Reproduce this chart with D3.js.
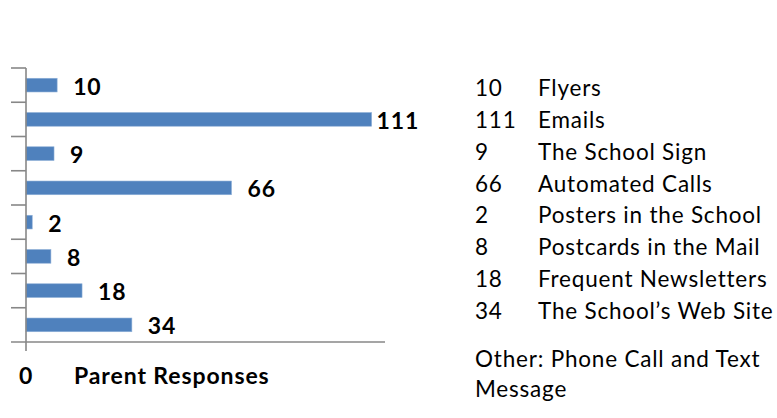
<!DOCTYPE html>
<html>
<head>
<meta charset="utf-8">
<script src="https://cdn.jsdelivr.net/npm/d3@7"></script>
<style>
  html, body { margin: 0; padding: 0; background: #fff; }
  svg { display: block; }
  text { font-family: Lato, "Open Sans", sans-serif; fill: #000; }
  text.b { font-weight: bold; font-size: 23px; letter-spacing: 0.9px; }
  text.r { font-size: 22.5px; letter-spacing: 0.8px; }
</style>
</head>
<body>
<svg id="chart" width="777" height="418"></svg>
<script>
// ---- data ----
const categories = ["Flyers", "Emails", "The School Sign", "Automated Calls",
  "Posters in the School", "Postcards in the Mail", "Frequent Newsletters", "The School\u2019s Web Site"];
const values = [10, 111, 9, 66, 2, 8, 18, 34];
const xTickLabels = ["0"];
const axisTitle = "Parent Responses";
const noteLines = ["Other: Phone Call and Text", "Message"];

// ---- layout ----
const svg = d3.select("#chart");
const x = d3.scaleLinear().domain([0, 115.3]).range([26, 385]);
const y = d3.scaleBand().domain(categories).range([68, 342]).paddingInner(0.6).paddingOuter(0.3);
const axisColor = "#878787";

// bars
svg.selectAll("rect.bar").data(values).join("rect")
  .attr("class", "bar")
  .attr("x", x(0))
  .attr("y", (d, i) => y(categories[i]))
  .attr("width", d => x(d) - x(0))
  .attr("height", y.bandwidth())
  .attr("fill", "#4f81bd")
  .attr("stroke", "#8fb0d8")
  .attr("stroke-width", 0.6);

// value labels
svg.selectAll("text.val").data(values).join("text")
  .attr("class", "val b")
  .attr("x", d => Math.min(x(d) + 16, 376.5))
  .attr("y", (d, i) => y(categories[i]) + y.bandwidth() / 2 + 9.5)
  .text(d => d);

// category axis (left) with ticks at band boundaries
const step = y.step();
const boundaries = d3.range(categories.length + 1).map(i => 68 + i * step);
svg.selectAll("line.ctick").data(boundaries.slice(0, -1)).join("line")
  .attr("class", "ctick")
  .attr("x1", 11).attr("x2", x(0))
  .attr("y1", d => d).attr("y2", d => d)
  .attr("stroke", axisColor).attr("stroke-width", 1.6);
svg.append("line")
  .attr("x1", x(0)).attr("x2", x(0))
  .attr("y1", 68).attr("y2", 351)
  .attr("stroke", axisColor).attr("stroke-width", 1.6);
// value axis (bottom)
svg.append("line")
  .attr("x1", 11).attr("x2", x(115.3))
  .attr("y1", 342).attr("y2", 342)
  .attr("stroke", axisColor).attr("stroke-width", 1.6);

svg.selectAll("text.xtick").data(xTickLabels).join("text")
  .attr("class", "xtick b")
  .attr("x", d => x(+d))
  .attr("y", 384)
  .attr("text-anchor", "middle")
  .text(d => d);
svg.append("text")
  .attr("class", "b")
  .attr("x", 74).attr("y", 384)
  .text(axisTitle);

// legend list on the right
const legY = d3.scalePoint().domain(d3.range(categories.length)).range([96, 319]);
const leg = svg.selectAll("g.leg").data(categories).join("g").attr("class", "leg");
leg.append("text").attr("class", "r").attr("x", 475).attr("y", (d, i) => legY(i))
  .text((d, i) => values[i]);
leg.append("text").attr("class", "r").attr("x", 538).attr("y", (d, i) => legY(i))
  .text(d => d);

svg.selectAll("text.note").data(noteLines).join("text")
  .attr("class", "note r")
  .attr("x", 475).attr("y", (d, i) => 366.7 + i * 30)
  .text(d => d);
</script>
</body>
</html>
